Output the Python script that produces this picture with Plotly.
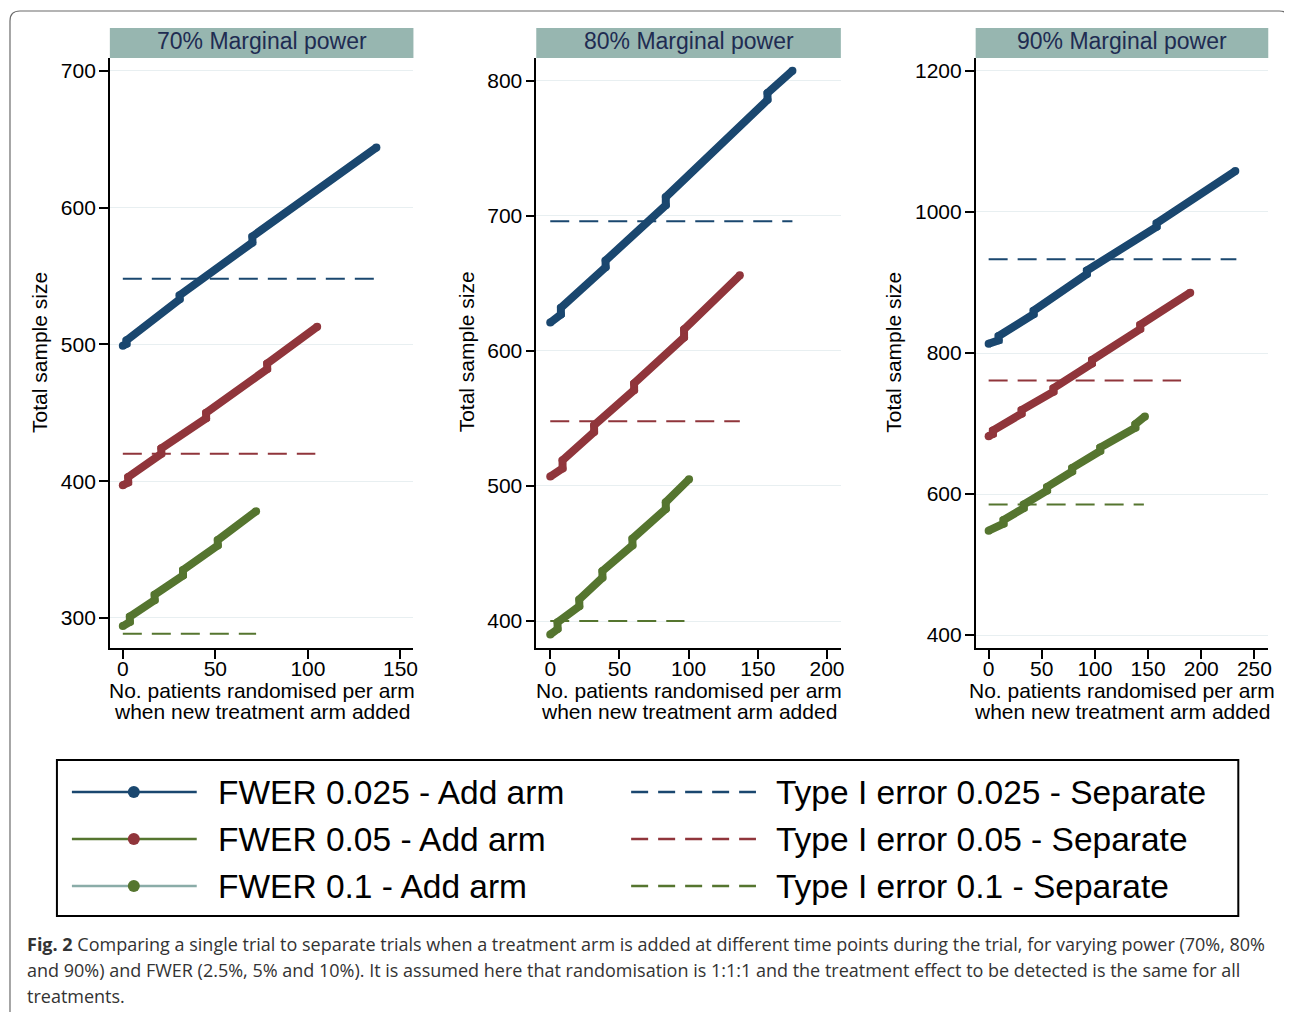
import plotly.graph_objects as go

W, H = 1292, 1004

# ---------------- data ----------------
panel_titles = ["70% Marginal power", "80% Marginal power", "90% Marginal power"]

# Panel 1 (70% power): "Add arm" lines (breakpoints with small jumps) and separate-trial levels
p1_blue_x = [0, 2, 2, 30.7, 30.7, 70, 70, 137]
p1_blue_y = [499, 500.5, 503, 533, 536, 574.5, 579, 644]
p1_red_x = [0, 2.9, 2.9, 20.8, 20.8, 45, 45, 78, 78, 105]
p1_red_y = [397, 399, 403, 420, 424, 446, 450, 482, 486, 513]
p1_green_x = [0, 3.8, 3.8, 17.2, 17.2, 32.5, 32.5, 51.3, 51.3, 72]
p1_green_y = [294, 297, 301, 313, 317, 331, 335, 353, 357, 378]
p1_sep_x = [[0, 137], [0, 104], [0, 72]]
p1_sep_y = [548, 420, 288.5]

# Panel 2 (80% power)
p2_blue_x = [0, 7.7, 7.7, 40, 40, 83.5, 83.5, 157, 157, 175]
p2_blue_y = [621, 627, 632, 662, 667, 708, 714, 786, 791, 807.5]
p2_red_x = [0, 8.9, 8.9, 31.7, 31.7, 60.6, 60.6, 96.7, 96.7, 137]
p2_red_y = [507, 513, 519, 540, 545, 571, 576, 610, 616, 656]
p2_green_x = [0, 5.3, 5.3, 21, 21, 37.7, 37.7, 59.4, 59.4, 83.5, 83.5, 100.3]
p2_green_y = [390, 394, 399, 411, 416, 432, 437, 456, 461, 483, 488, 505]
p2_sep_x = [[0, 175], [0, 137], [0, 97]]
p2_sep_y = [696, 548, 400]

# Panel 3 (90% power)
p3_blue_x = [0, 9.4, 9.4, 42.3, 42.3, 92.4, 92.4, 158, 158, 232]
p3_blue_y = [813, 818, 824, 855, 860, 912, 917, 979, 984, 1058]
p3_red_x = [0, 4, 4, 31, 31, 61, 61, 97.2, 97.2, 142.6, 142.6, 189.6]
p3_red_y = [682, 685, 690, 714, 719, 745, 750, 785, 790, 834, 840, 885.5]
p3_green_x = [0, 14, 14, 33, 33, 55, 55, 78.6, 78.6, 105, 105, 138, 138, 147]
p3_green_y = [548, 558, 563, 580, 585, 605, 610, 632, 637, 661, 666, 694, 699, 710]
p3_sep_x = [[0, 233], [0, 181], [0, 146]]
p3_sep_y = [933, 761, 585]

x_ticks = [[0, 50, 100, 150], [0, 50, 100, 150, 200], [0, 50, 100, 150, 200, 250]]
y_ticks = [[300, 400, 500, 600, 700], [400, 500, 600, 700, 800],
           [400, 600, 800, 1000, 1200]]
x_ranges = [[-7, 157], [-10.1, 210], [-12.2, 263]]
y_ranges = [[278, 709.5], [380, 817], [381.6, 1218.4]]

legend_left = ["FWER 0.025 - Add arm", "FWER 0.05 - Add arm", "FWER 0.1 - Add arm"]
legend_right = ["Type I error 0.025 - Separate", "Type I error 0.05 - Separate",
                "Type I error 0.1 - Separate"]

caption_lines = [
    "<b>Fig. 2</b> Comparing a single trial to separate trials when a treatment arm is added at different time points during the trial, for varying power (70%, 80%",
    "and 90%) and FWER (2.5%, 5% and 10%). It is assumed here that randomisation is 1:1:1 and the treatment effect to be detected is the same for all",
    "treatments.",
]

# ---------------- styling ----------------
NAVY = "#1a476f"
MAROON = "#90353b"
GREEN = "#55752f"
TEAL = "#8aaca8"
STRIP = "#97b6b0"
STRIP_TXT = "#1f2c52"
GRID = "#e8eff1"
FONT = "Liberation Sans"

series_colors = [NAVY, MAROON, GREEN]
legend_line_colors = [NAVY, GREEN, TEAL]

OFF = 8      # page body margin offset
SX = 0.9975  # small horizontal correction of the captured page


def fx(x):
    return (10 + (x - 10) / SX - OFF) / W


def fy(y):
    return 1 - (y - OFF) / H


panels = [
    ([p1_blue_x, p1_red_x, p1_green_x], [p1_blue_y, p1_red_y, p1_green_y], p1_sep_x, p1_sep_y),
    ([p2_blue_x, p2_red_x, p2_green_x], [p2_blue_y, p2_red_y, p2_green_y], p2_sep_x, p2_sep_y),
    ([p3_blue_x, p3_red_x, p3_green_x], [p3_blue_y, p3_red_y, p3_green_y], p3_sep_x, p3_sep_y),
]

# pixel extents of plot areas (window pixels)
px_left = [110, 537, 977]
px_right = [414, 842, 1270]
px_top, px_bottom = 58, 648
ytitle_x = [40, 468, 895]

fig = go.Figure()
layout = dict(
    width=W, height=H, margin=dict(l=0, r=0, t=0, b=0),
    paper_bgcolor="white", plot_bgcolor="white", showlegend=False,
    font=dict(family=FONT, color="black", size=21),
)
shapes = []
annotations = []

for i, (lx, ly, sx, sy) in enumerate(panels):
    n = i + 1
    xa = "x" if n == 1 else f"x{n}"
    ya = "y" if n == 1 else f"y{n}"
    # separate-trial dashed lines
    for k in range(3):
        fig.add_trace(go.Scatter(
            x=sx[k], y=[sy[k], sy[k]], mode="lines", xaxis=xa, yaxis=ya,
            line=dict(color=series_colors[k], width=2, dash="19px,10px"),
            hoverinfo="skip"))
    # add-arm thick lines
    for k in range(3):
        fig.add_trace(go.Scatter(
            x=lx[k], y=ly[k], mode="lines+markers", xaxis=xa, yaxis=ya,
            line=dict(color=series_colors[k], width=8),
            marker=dict(color=series_colors[k], size=8, line=dict(width=0)),
            hoverinfo="skip"))

    axis_common = dict(
        showline=True, linecolor="black", linewidth=1.5, ticks="outside",
        ticklen=9, tickwidth=1.5, tickcolor="black", zeroline=False,
        tickfont=dict(family=FONT, size=21, color="black"),
    )
    layout[f"xaxis{n if n > 1 else ''}"] = dict(
        axis_common, domain=[fx(px_left[i]), fx(px_right[i])], anchor=ya,
        range=x_ranges[i], tickvals=x_ticks[i], showgrid=False,
        ticklabelstandoff=-8)
    layout[f"yaxis{n if n > 1 else ''}"] = dict(
        axis_common, domain=[fy(px_bottom), fy(px_top)], anchor=xa,
        range=y_ranges[i], tickvals=y_ticks[i], showgrid=True,
        gridcolor=GRID, gridwidth=1.2, ticklabelstandoff=-1)

    # strip header
    shapes.append(dict(type="rect", xref="paper", yref="paper",
                       x0=fx(px_left[i]), x1=fx(px_right[i]), y0=fy(58), y1=fy(28),
                       fillcolor=STRIP, line=dict(width=0), layer="below"))
    annotations.append(dict(xref="paper", yref="paper",
                            x=fx((px_left[i] + px_right[i]) / 2), y=fy(41),
                            text=panel_titles[i], showarrow=False,
                            xanchor="center", yanchor="middle",
                            font=dict(family=FONT, size=23, color=STRIP_TXT)))
    # axis titles
    annotations.append(dict(xref="paper", yref="paper", x=fx(ytitle_x[i]), y=fy(352),
                            text="Total sample size", textangle=-90, showarrow=False,
                            xanchor="center", yanchor="middle",
                            font=dict(family=FONT, size=21, color="black")))
    cx = fx((px_left[i] + px_right[i]) / 2)
    annotations.append(dict(xref="paper", yref="paper", x=cx, y=fy(690),
                            text="No. patients randomised per arm", showarrow=False,
                            xanchor="center", yanchor="middle",
                            font=dict(family=FONT, size=21, color="black")))
    annotations.append(dict(xref="paper", yref="paper", x=cx, y=fy(711),
                            text="when new treatment arm added", showarrow=False,
                            xanchor="center", yanchor="middle",
                            font=dict(family=FONT, size=21, color="black")))

# outer frame
frame_path = (f"M {fx(10)},{fy(1012)} L {fx(10)},{fy(21)} "
              f"Q {fx(10)},{fy(11)} {fx(20)},{fy(11)} "
              f"L {fx(1281)},{fy(11)} Q {fx(1291)},{fy(11)} {fx(1291)},{fy(21)} "
              f"L {fx(1291)},{fy(1012)}")
shapes.append(dict(type="path", xref="paper", yref="paper", path=frame_path,
                   line=dict(color="#6b6b6b", width=1.2)))

# legend box
shapes.append(dict(type="rect", xref="paper", yref="paper",
                   x0=fx(57), x1=fx(1240), y0=fy(916), y1=fy(760),
                   line=dict(color="black", width=2)))
row_y = [792, 839, 886]
for r in range(3):
    shapes.append(dict(type="line", xref="paper", yref="paper",
                       x0=fx(72), x1=fx(197), y0=fy(row_y[r]), y1=fy(row_y[r]),
                       line=dict(color=legend_line_colors[r], width=2.5)))
    shapes.append(dict(type="circle", xref="paper", yref="paper",
                       x0=fx(128), x1=fx(140), y0=fy(row_y[r] + 6), y1=fy(row_y[r] - 6),
                       fillcolor=series_colors[r], line=dict(width=0)))
    shapes.append(dict(type="line", xref="paper", yref="paper",
                       x0=fx(632), x1=fx(757), y0=fy(row_y[r]), y1=fy(row_y[r]),
                       line=dict(color=series_colors[r], width=2.5, dash="17px,10px")))
    annotations.append(dict(xref="paper", yref="paper", x=fx(216), y=fy(row_y[r]),
                            text=legend_left[r], showarrow=False,
                            xanchor="left", yanchor="middle",
                            font=dict(family=FONT, size=33.5, color="black")))
    annotations.append(dict(xref="paper", yref="paper", x=fx(775), y=fy(row_y[r]),
                            text=legend_right[r], showarrow=False,
                            xanchor="left", yanchor="middle",
                            font=dict(family=FONT, size=33.5, color="black")))

# caption
cap_y = [944, 970, 996]
for r, line in enumerate(caption_lines):
    annotations.append(dict(xref="paper", yref="paper", x=fx(25), y=fy(cap_y[r]),
                            text=line, showarrow=False, xanchor="left", yanchor="middle",
                            font=dict(family="Open Sans", size=18, color="#333333")))

layout["shapes"] = shapes
layout["annotations"] = annotations
fig.update_layout(**layout)
fig.write_html("out.html")
